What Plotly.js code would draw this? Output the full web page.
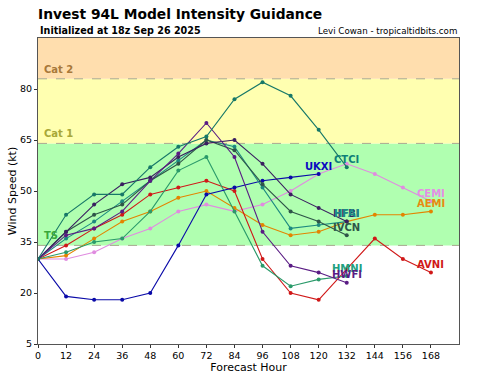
<!DOCTYPE html>
<html>
<head>
<meta charset="utf-8">
<script src="https://cdn.plot.ly/plotly-3.0.1.min.js"></script>
<style>html,body{margin:0;padding:0;background:#fff;}#chart{width:479px;height:374px;}</style>
</head>
<body>
<div id="chart"></div>
<script>
const hours = [0,12,24,36,48,60,72,84,96,108,120,132,144,156,168];
const models = ["UKXI","CTCI","CEMI","AEMI","HFBI","HFAI","IVCN","HMNI","HWFI","AVNI"];
const UKXI = [30,19,18,18,20,34,49,51,53,54,55];
const CTCI = [30,43,49,49,57,63,66,77,82,78,68,57];
const CEMI = [30,30,32,36,39,44,46,44,46,50,55,58,55,51,47];
const AEMI = [30,31,36,41,44,48,50,45,40,37,38,41,43,43,44];
const HFAI = [30,36,41,47,53,59,65,63,51,39,40,41];
const HFBI = [30,38,46,52,54,60,64,65,58,49,45,41];
const IVCN = [30,38,43,46,53,58,65,62,52,44,41,37];
const HMNI = [30,32,35,36,44,56,60,44,28,22,24,25];
const HWFI = [30,37,39,44,53,61,70,60,38,28,26,23];
const AVNI = [30,34,39,43,49,51,53,50,30,20,18,27,36,30,26];
const xTicks = [0,12,24,36,48,60,72,84,96,108,120,132,144,156,168];
const yTicks = [5,20,35,50,65,80];
const bandEdges = [34,64,83];
const bandNames = ["TS","Cat 1","Cat 2"];

const series = {UKXI,CTCI,CEMI,AEMI,HFAI,HFBI,IVCN,HMNI,HWFI,AVNI};
const colors = {
  UKXI:"#0a0aa8", CTCI:"#177868", CEMI:"#e08ce0", AEMI:"#e38400",
  HFAI:"#1d8a80", HFBI:"#3a1f60", IVCN:"#2e5548", HMNI:"#2a9a6a",
  HWFI:"#5a1c84", AVNI:"#d01818"
};
const labelColors = {
  UKXI:"#0a0ac0", CTCI:"#0f7f78", CEMI:"#e58ee5", AEMI:"#e88a10",
  HFAI:"#1a8a88", HFBI:"#3a1f60", IVCN:"#2e5548", HMNI:"#20a080",
  HWFI:"#5a1c84", AVNI:"#d01818"
};
const drawOrder = ["CEMI","AEMI","AVNI","HMNI","UKXI","HFAI","IVCN","HFBI","HWFI","CTCI"];

const traces = drawOrder.map(m => ({
  x: hours.slice(0, series[m].length),
  y: series[m],
  type: "scatter",
  mode: "lines+markers",
  name: m,
  line: {color: colors[m], width: 1.1},
  marker: {color: colors[m], size: 4},
  hoverinfo: "skip"
}));

const annotations = models.map(m => {
  const v = series[m];
  return {
    x: hours[v.length-1], y: v[v.length-1], xref: "x", yref: "y",
    text: "<b>" + m + "</b>", showarrow: false, yshift: 8,
    xanchor: "center", yanchor: "middle",
    font: {family: "DejaVu Sans", size: 10, color: labelColors[m]}
  };
});

const bandLabelColors = ["#3aa83a","#a8a838","#a8783a"];
bandNames.forEach((n,i) => {
  annotations.push({
    x: 0.01, xref: "paper", y: bandEdges[i], yref: "y", text: "<b>" + n + "</b>",
    showarrow: false, xanchor: "left", yanchor: "bottom", yshift: 2,
    font: {family: "DejaVu Sans", size: 10, color: bandLabelColors[i]}
  });
});

annotations.push({
  x: 0, xref: "paper", y: 1.023, yref: "paper", text: "<b>Initialized at 18z Sep 26 2025</b>",
  showarrow: false, xanchor: "left", yanchor: "middle",
  font: {family: "DejaVu Sans", size: 9.6, color: "#000"}
});
annotations.push({
  x: 1, xref: "paper", y: 1.023, yref: "paper", text: "Levi Cowan - tropicaltidbits.com",
  showarrow: false, xanchor: "right", yanchor: "middle",
  font: {family: "DejaVu Sans", size: 8.7, color: "#000"}
});

const shapes = [
  {type:"rect", xref:"paper", x0:0, x1:1, yref:"y", y0:bandEdges[0], y1:bandEdges[1], fillcolor:"#b0ffb0", line:{width:0}, layer:"below"},
  {type:"rect", xref:"paper", x0:0, x1:1, yref:"y", y0:bandEdges[1], y1:bandEdges[2], fillcolor:"#ffffb0", line:{width:0}, layer:"below"},
  {type:"rect", xref:"paper", x0:0, x1:1, yref:"y", y0:bandEdges[2], y1:95, fillcolor:"#ffdeae", line:{width:0}, layer:"below"}
];
bandEdges.forEach(e => shapes.push({
  type:"line", xref:"paper", x0:0, x1:1, yref:"y", y0:e, y1:e,
  line:{color:"#a8a890", width:1, dash:"dash"}, layer:"below"
}));

const layout = {
  width: 479, height: 374,
  margin: {l: 38, r: 20, t: 38, b: 30},
  paper_bgcolor: "#ffffff", plot_bgcolor: "#ffffff",
  showlegend: false,
  font: {family: "DejaVu Sans", size: 9.5, color: "#000"},
  title: {
    text: "<b>Invest 94L Model Intensity Guidance</b>",
    x: 38/479, xanchor: "left", xref: "container",
    y: 1 - 14/374, yanchor: "middle", yref: "container",
    font: {family: "DejaVu Sans", size: 13.8, color: "#000"}
  },
  xaxis: {
    range: [0, 180], tickvals: xTicks, ticktext: xTicks.map(String),
    showgrid: false, zeroline: false, showline: true, mirror: true,
    linecolor: "#555", linewidth: 1, ticks: "outside", ticklen: 3, tickcolor: "#333",
    tickfont: {size: 9.5, family: "DejaVu Sans"},
    title: {text: "Forecast Hour", font: {size: 11, family: "DejaVu Sans"}, standoff: 4}
  },
  yaxis: {
    range: [5, 95], tickvals: yTicks, ticktext: yTicks.map(String),
    showgrid: false, zeroline: false, showline: true, mirror: true,
    linecolor: "#555", linewidth: 1, ticks: "outside", ticklen: 3, tickcolor: "#333",
    tickfont: {size: 9.5, family: "DejaVu Sans"},
    title: {text: "Wind Speed (kt)", font: {size: 11, family: "DejaVu Sans"}, standoff: 1}
  },
  shapes: shapes,
  annotations: annotations
};

Plotly.newPlot("chart", traces, layout, {displayModeBar: false, staticPlot: true});
</script>
</body>
</html>
